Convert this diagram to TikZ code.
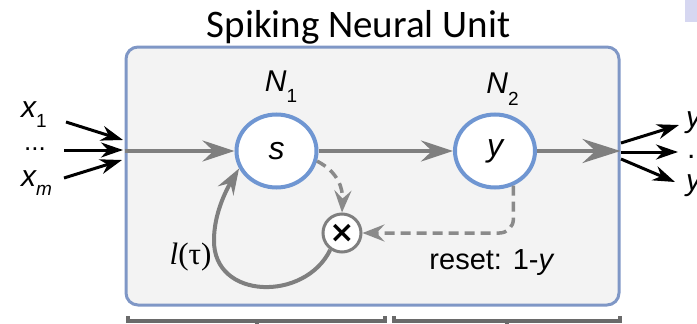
\documentclass[tikz,border=0pt]{standalone}
\usepackage{fontspec}
\setmainfont{Liberation Sans}
\newfontfamily\titlefont{Carlito}
\newfontfamily\leakfont{Liberation Serif}
\newfontfamily\crossfont{DejaVu Sans}
\usetikzlibrary{arrows.meta,shapes.geometric}

\definecolor{boxfill}{HTML}{F3F3F3}
\definecolor{boxline}{HTML}{7F97C6}
\definecolor{cellblue}{HTML}{6F96D2}
\definecolor{wire}{HTML}{7F7F7F}
\definecolor{dashwire}{HTML}{8A8A8A}
\definecolor{brk}{HTML}{6A6A6A}
\definecolor{tabcol}{HTML}{D6D7F1}

\newcommand{\fsz}[1]{\fontsize{#1}{#1}\selectfont}
% italic symbol with a lowered subscript
\newcommand{\symsub}[3]{{\itshape #1}\raisebox{-#3}{\fsz{19}#2}}

\begin{document}
\begin{tikzpicture}[x=1pt,y=-1pt,
  neuron/.style={ellipse, draw=cellblue, line width=4pt, fill=white,
    minimum width=80pt, minimum height=73pt, inner sep=0pt, font=\fsz{32}\itshape},
  multnode/.style={circle, draw=wire, line width=3pt, fill=white,
    minimum size=38pt, inner sep=0pt, font=\crossfont\bfseries\fsz{30}},
  wireline/.style={draw=wire, line width=4pt},
  bigtip/.style={-{Stealth[length=38pt,width=24pt,inset=13pt]}},
  midtip/.style={-{Stealth[length=32pt,width=21pt,inset=11pt]}},
  looptip/.style={-{Stealth[length=26pt,width=18pt,inset=9pt]}},
  dashline/.style={draw=dashwire, line width=3.5pt, dash pattern=on 10pt off 6pt},
  dashtip/.style={-{Stealth[length=22pt,width=17pt,inset=8pt]}},
  ioarrow/.style={draw=black, line width=3pt, -{Stealth[length=22pt,width=15pt,inset=7pt]}},
  label/.style={font=\fsz{30}, inner sep=0pt},
  bracket/.style={draw=brk, line width=3.5pt}
]
\useasboundingbox (0,0) rectangle (697,324);

% corner tab
\fill[tabcol] (685,0) rectangle (697,22);

% unit frame and title
\node[draw=boxline, fill=boxfill, line width=3pt, rounded corners=12pt,
  minimum width=493pt, minimum height=258pt, inner sep=0pt] (unit) at (372.5,176) {};
\node[font=\titlefont\fsz{39}, anchor=base, inner sep=0pt] (title) at (358.5,37) {Spiking Neural Unit};

% neurons
\node[neuron] (n1) at (276.5,151) {s};
\node[neuron] (n2) at (495,151) {y};
\node[label, anchor=base] (n1lbl) at (281,91) {\symsub{N}{1}{11pt}};
\node[label, anchor=base] (n2lbl) at (502.5,93) {\symsub{N}{2}{12pt}};

% multiplier
\node[multnode] (mult) at (342,233) {×};

% main signal path
\coordinate (inpt) at (unit.west |- n1.west);
\coordinate (outpt) at (unit.east |- n2.east);
\draw[wireline, midtip] (inpt) -- (n1.west);
\draw[wireline, midtip] (n1.east) -- (n2.west);
\draw[wireline, bigtip] (n2.east) -- (outpt);

% leak loop
\draw[wireline, looptip] (mult.235) .. controls (305,302) and (213,300) .. (214,240)
  .. controls (214,215) and (225,192) .. (n1.205);
\node[font=\leakfont\fsz{31}, inner sep=0pt] (leak) at (190.5,257) {\textit{l}(τ)};

% state to multiplier
\draw[dashline, dashtip] (n1.-14) .. controls (338,172) and (343,188) .. (mult.north);

% reset path
\draw[dashline, dashtip, rounded corners=14pt] (n2.-62) |- (mult.east);
\node[font=\fsz{29}, inner sep=0pt] (resetlbl) at (492,263) {reset: 1-\textit{y}};

% inputs
\node[label, anchor=base west] (x1) at (21,117) {\symsub{x}{1}{10pt}};
\node[font=\fsz{26}, inner sep=0pt, anchor=base] (xdots) at (35,150) {...};
\node[label, anchor=base west] (xm) at (21,186) {\symsub{x}{\itshape m}{9pt}};
\coordinate (i1) at (66,122);
\coordinate (i2) at (64,150);
\coordinate (i3) at (64,178);
\coordinate (t1) at (123,140);
\coordinate (t2) at (123,150);
\coordinate (t3) at (122,160);
\draw[ioarrow] (i1) -- (t1);
\draw[ioarrow] (i2) -- (t2);
\draw[ioarrow] (i3) -- (t3);

% outputs
\coordinate (o1) at (621,143);
\coordinate (o2) at (621,152);
\coordinate (o3) at (621,159);
\coordinate (e1) at (679,125);
\coordinate (e2) at (678,152);
\coordinate (e3) at (675,182);
\draw[ioarrow] (o1) -- (e1);
\draw[ioarrow] (o2) -- (e2);
\draw[ioarrow] (o3) -- (e3);
\node[label, anchor=base west, font=\fsz{30}\itshape] (y1) at (686,127) {y};
\node[label, anchor=base west] (ydots) at (687,158) {.};
\node[label, anchor=base west, font=\fsz{30}\itshape] (yn) at (686,190) {y};

% group brackets
\draw[bracket] (128,316) -- (128,321) -- (385,321) -- (385,316);
\draw[bracket] (257,321) -- (257,330);
\draw[bracket] (394,316) -- (394,321) -- (620,321) -- (620,316);
\draw[bracket] (507,321) -- (507,330);
\end{tikzpicture}
\end{document}
